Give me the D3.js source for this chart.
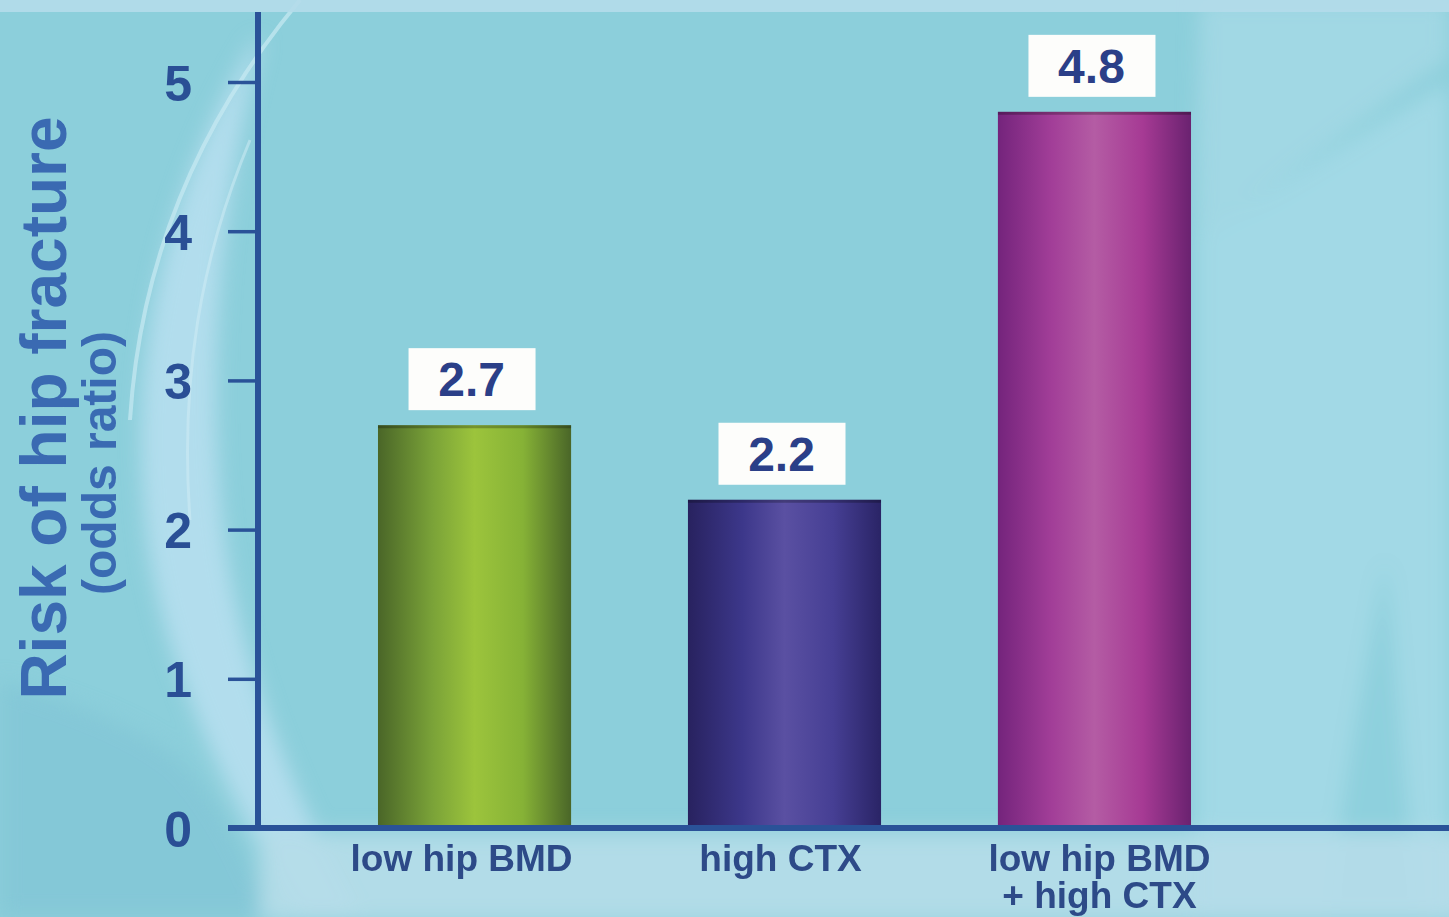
<!DOCTYPE html>
<html>
<head>
<meta charset="utf-8">
<script src="https://cdn.jsdelivr.net/npm/d3@7"></script>
<style>
  html, body { margin: 0; padding: 0; background: #8ccfdb; }
  svg { display: block; }
  text { font-family: "Liberation Sans", Arial, Helvetica, sans-serif; font-weight: bold; }
</style>
</head>
<body>
<svg id="chart" width="1449" height="917"></svg>
<script>
// Odds ratios for hip fracture risk
const categories = ["low hip BMD", "high CTX", "low hip BMD + high CTX"];
const categoryLines = [["low hip BMD"], ["high CTX"], ["low hip BMD", "+ high CTX"]];
const oddsRatios = [2.7, 2.2, 4.8];
const valueLabels = ["2.7", "2.2", "4.8"];
const yTicks = [0, 1, 2, 3, 4, 5];
const barPalettes = [
  ["#4a6628", "#7aa238", "#9cc43c", "#86b236", "#4a6628"],
  ["#28225f", "#3c378a", "#5a50a2", "#463f94", "#2a2466"],
  ["#74247c", "#a23e98", "#b45ca4", "#a63a94", "#6a2270"]
];

const W = 1449, H = 917;
const svg = d3.select("#chart");
const defs = svg.append("defs");

// ---- decorative background ----
const bg = svg.append("g");
bg.append("rect").attr("width", W).attr("height", H).attr("fill", "#8ccfdb");

const soft = defs.append("filter").attr("id", "soft").attr("x", "-20%").attr("y", "-20%").attr("width", "140%").attr("height", "140%");
soft.append("feGaussianBlur").attr("stdDeviation", 10);

const sweep = bg.append("g").attr("filter", "url(#soft)");
// light band on the right
sweep.append("path")
  .attr("d", "M1200,0 L1449,0 L1449,60 C1360,120 1260,200 1195,240 Z")
  .attr("fill", "#a6d9e6").attr("opacity", 0.8);
sweep.append("path")
  .attr("d", "M1195,240 C1300,170 1400,110 1449,80 L1449,917 L1195,917 Z")
  .attr("fill", "#a6dae8").attr("opacity", 0.85);
sweep.append("path")
  .attr("d", "M1330,917 C1340,800 1360,700 1385,560 C1395,640 1400,760 1420,917 Z")
  .attr("fill", "#8ccfdb").attr("opacity", 0.9);
// light crescent on the left
sweep.append("path")
  .attr("d", "M255,40 C170,180 120,360 150,560 C170,680 230,800 300,917 L360,917 C290,790 240,660 225,540 C205,380 220,200 262,40 Z")
  .attr("fill", "#b9dff0").attr("opacity", 0.85);
sweep.append("path")
  .attr("d", "M0,680 C60,700 130,720 180,760 C220,800 250,860 270,917 L0,917 Z")
  .attr("fill", "#82c6d6").attr("opacity", 0.8);
// light strip beneath the axis
sweep.append("rect").attr("x", 260).attr("y", 832).attr("width", W).attr("height", 90)
  .attr("fill", "#b6dde9").attr("opacity", 0.9);
// thin arc highlights
bg.append("path")
  .attr("d", "M300,0 C200,120 140,260 130,420")
  .attr("fill", "none").attr("stroke", "#c8eaf2").attr("stroke-width", 4).attr("opacity", 0.7);
bg.append("path")
  .attr("d", "M250,140 C200,260 180,380 190,520")
  .attr("fill", "none").attr("stroke", "#d2eef6").attr("stroke-width", 3).attr("opacity", 0.5);
bg.append("rect").attr("x", 0).attr("y", 0).attr("width", W).attr("height", 12)
  .attr("fill", "#b4dbea").attr("opacity", 0.9);

// ---- scales ----
const y = d3.scaleLinear().domain([0, 5]).range([828, 82]);
const x = d3.scaleBand().domain(categories).range([285, 1284]).paddingInner(0.377).paddingOuter(0.3);

// ---- bar gradients ----
barPalettes.forEach((pal, i) => {
  const g = defs.append("linearGradient").attr("id", "barGrad" + i)
    .attr("x1", "0%").attr("x2", "100%").attr("y1", "0%").attr("y2", "0%");
  const stops = [0, 0.28, 0.5, 0.75, 1];
  pal.forEach((c, j) => g.append("stop").attr("offset", stops[j]).attr("stop-color", c));
});

// ---- bars ----
const bars = svg.append("g");
bars.selectAll("rect.bar")
  .data(oddsRatios)
  .join("rect")
  .attr("class", "bar")
  .attr("x", (d, i) => x(categories[i]))
  .attr("y", d => y(d))
  .attr("width", x.bandwidth())
  .attr("height", d => y(0) - y(d))
  .attr("fill", (d, i) => `url(#barGrad${i})`);
// darker rim along the top of each bar
bars.selectAll("line.rim")
  .data(oddsRatios)
  .join("line")
  .attr("class", "rim")
  .attr("x1", (d, i) => x(categories[i]))
  .attr("x2", (d, i) => x(categories[i]) + x.bandwidth())
  .attr("y1", d => y(d) + 1.5)
  .attr("y2", d => y(d) + 1.5)
  .attr("stroke", "#000").attr("stroke-opacity", 0.25).attr("stroke-width", 3);

// ---- value labels in white boxes ----
const lbl = svg.append("g").selectAll("g")
  .data(oddsRatios)
  .join("g")
  .attr("transform", (d, i) => `translate(${x(categories[i]) + x.bandwidth() / 2 - 3},${y(d) - 15})`);
lbl.append("rect")
  .attr("x", -63).attr("y", -62).attr("width", 127).attr("height", 62)
  .attr("fill", "#fdfdfb");
lbl.append("text")
  .attr("text-anchor", "middle")
  .attr("y", -14)
  .attr("font-size", 48)
  .attr("fill", "#2b3f88")
  .text((d, i) => valueLabels[i]);

// ---- axes ----
const axisColor = "#2a5298";
const yAxis = d3.axisLeft(y).tickValues(yTicks).tickSize(30).tickPadding(36).tickFormat(d3.format("d"));
const yg = svg.append("g").attr("transform", "translate(258,0)").call(yAxis);
yg.select(".domain").remove();
yg.selectAll(".tick line").attr("stroke", axisColor).attr("stroke-width", 3.5);
yg.selectAll(".tick text")
  .attr("font-size", 50).attr("fill", "#2a4f95")
  .attr("font-family", "Liberation Sans, Arial, sans-serif").attr("font-weight", "bold")
  .attr("dy", "0.36em");

// axis lines
svg.append("line").attr("x1", 258).attr("x2", 258).attr("y1", 12).attr("y2", y(0) + 3)
  .attr("stroke", axisColor).attr("stroke-width", 6);
svg.append("line").attr("x1", 228).attr("x2", W).attr("y1", y(0)).attr("y2", y(0))
  .attr("stroke", axisColor).attr("stroke-width", 6);

// category labels
const cl = svg.append("g").selectAll("text")
  .data(categoryLines)
  .join("text")
  .attr("text-anchor", "middle")
  .attr("font-size", 37)
  .attr("fill", "#2d4a88")
  .attr("transform", (d, i) => `translate(${x(categories[i]) + x.bandwidth() / 2 + (i - 1) * 9 - 4},871)`);
cl.selectAll("tspan")
  .data(d => d)
  .join("tspan")
  .attr("x", 0)
  .attr("dy", (d, j) => j === 0 ? 0 : 37)
  .text(d => d);

// y axis titles
svg.append("text")
  .attr("transform", "translate(66,408) rotate(-90)")
  .attr("text-anchor", "middle")
  .attr("font-size", 64)
  .attr("fill", "#3a6ab2")
  .text("Risk of hip fracture");
svg.append("text")
  .attr("transform", "translate(116,463) rotate(-90)")
  .attr("text-anchor", "middle")
  .attr("font-size", 48)
  .attr("fill", "#3a6ab2")
  .text("(odds ratio)");
</script>
</body>
</html>
